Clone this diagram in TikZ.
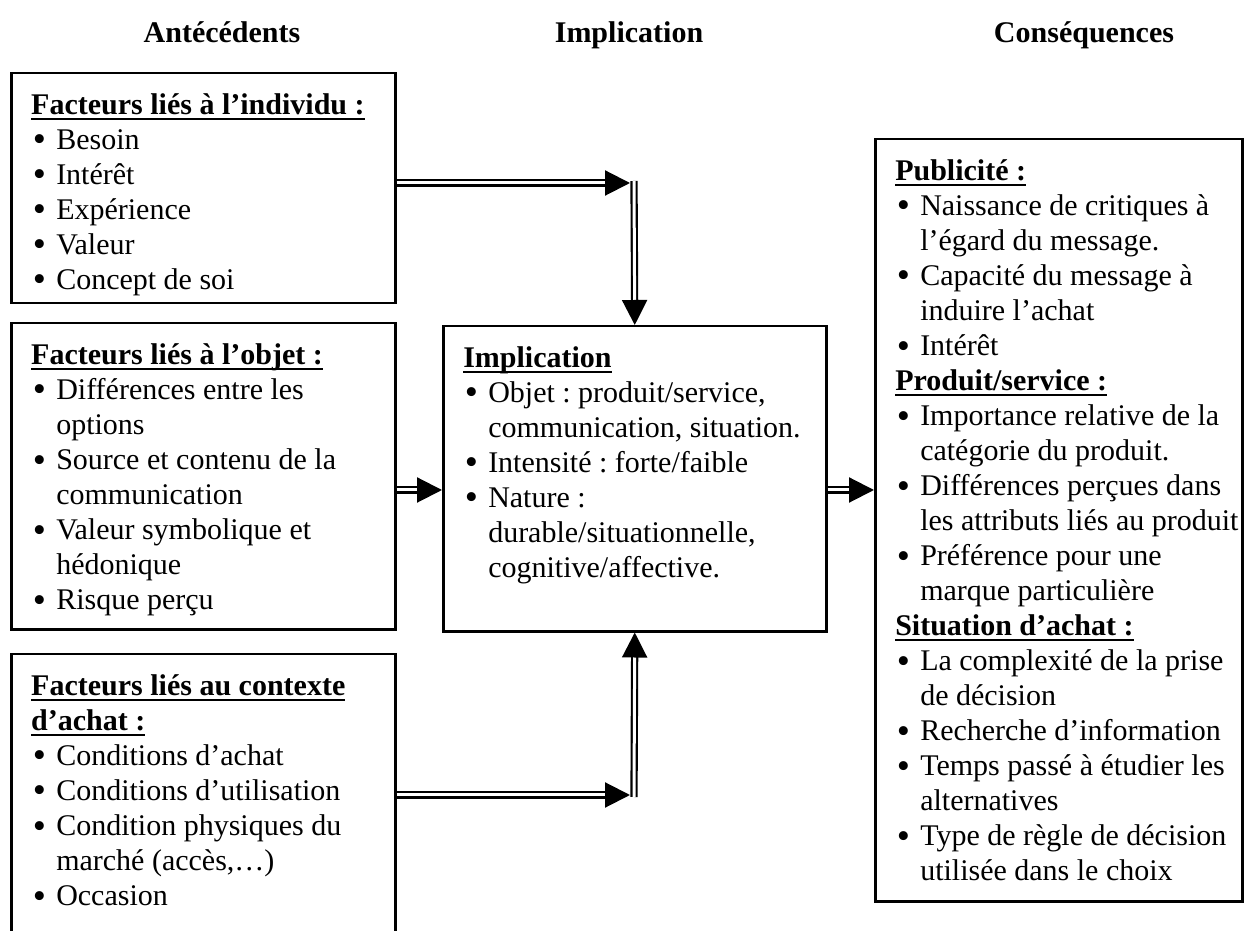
\documentclass[tikz,border=0pt]{standalone}
\usepackage{fontspec}
\setmainfont{Liberation Serif}
\usepackage{tikz}
\usetikzlibrary{positioning,arrows.meta,calc}
\frenchspacing

\newcommand{\entete}[1]{\leavevmode\setbox0=\hbox{\bfseries #1}\rlap{\rule[-2.2pt]{\wd0}{0.8pt}}\box0}
\newcommand{\puce}{\raisebox{-1.1pt}{\scalebox{1.25}{\textbullet}}}
\newcommand{\itm}{\par\hangindent=10pt\hangafter=1\noindent\makebox[10pt][l]{\hspace{0.6pt}\puce}}
\newcommand{\cadre}[3]{\parbox[c][#1][t]{#2}{\leftskip=8pt\rightskip=0pt plus 1fil\parfillskip=0pt plus 1fil\strut#3}}

\begin{document}
\begin{tikzpicture}[
  x=0.4pt,y=-0.4pt,
  every node/.style={font=\fontsize{12}{14}\selectfont},
  colonne/.style={font=\fontsize{12}{14}\selectfont\bfseries,anchor=base},
  boite/.style={draw,line width=1pt,inner xsep=0pt,inner ysep=6.6pt,anchor=north west},
  fleche/.style={double,double distance=1.2pt,line width=0.85pt,-{Triangle[length=10pt,width=10pt]}}
]
\useasboundingbox (0,0) rectangle (1248,931);
\clip (0,0) rectangle (1248,931);

% titres des colonnes
\node[colonne] (tant) at (222,43) {Antécédents};
\node[colonne] (timpl) at (629,43) {Implication};
\node[colonne] (tcons) at (1084,43) {Conséquences};

% antécédents
\node[boite] (indiv) at (10,72) {\cadre{78.8pt}{153.6pt}{\entete{Facteurs liés à l’individu :}
  \itm Besoin
  \itm Intérêt
  \itm Expérience
  \itm Valeur
  \itm Concept de soi}};
\node[boite] (objet) at (10,322) {\cadre{109.2pt}{153.6pt}{\entete{Facteurs liés à l’objet :}
  \itm Différences entre les\newline options
  \itm Source et contenu de la\newline communication
  \itm Valeur symbolique et\newline hédonique
  \itm Risque perçu}};
\node[boite] (contexte) at (10,653) {\cadre{140pt}{153.6pt}{\entete{Facteurs liés au contexte}\newline\entete{d’achat :}
  \itm Conditions d’achat
  \itm Conditions d’utilisation
  \itm Condition physiques du\newline marché (accès,…)
  \itm Occasion}};

% implication
\node[boite] (impl) at (442,325) {\cadre{108.8pt}{153.2pt}{\entete{Implication}
  \itm Objet : produit/service,\newline communication, situation.
  \itm Intensité : forte/faible
  \itm Nature :\newline durable/situationnelle,\newline cognitive/affective.}};

% conséquences
\node[boite] (csq) at (874,138) {\cadre{291.6pt}{146.8pt}{\entete{Publicité :}
  \itm Naissance de critiques à\newline l’égard du message.
  \itm Capacité du message à\newline induire l’achat
  \itm Intérêt
  \par\entete{Produit/service :}
  \itm Importance relative de la\newline catégorie du produit.
  \itm Différences perçues dans\newline les attributs liés au produit
  \itm Préférence pour une\newline marque particulière
  \par\entete{Situation d’achat :}
  \itm La complexité de la prise\newline de décision
  \itm Recherche d’information
  \itm Temps passé à étudier les\newline alternatives
  \itm Type de règle de décision\newline utilisée dans le choix}};

% flèches
\coordinate (c1) at (630,183);
\coordinate (c1b) at (634,181);
\coordinate (c2) at (0,490);
\coordinate (c3) at (630,795);
\coordinate (c3b) at (634,797);
\draw[fleche] (indiv.east |- c1) -- (c1);
\draw[fleche] (c1b) -- (impl.north);
\draw[fleche] (objet.east |- c2) -- (impl.west |- c2);
\draw[fleche] (impl.east |- c2) -- (csq.west |- c2);
\draw[fleche] (contexte.east |- c3) -- (c3);
\draw[fleche] (c3b) -- (impl.south);
\end{tikzpicture}
\end{document}
